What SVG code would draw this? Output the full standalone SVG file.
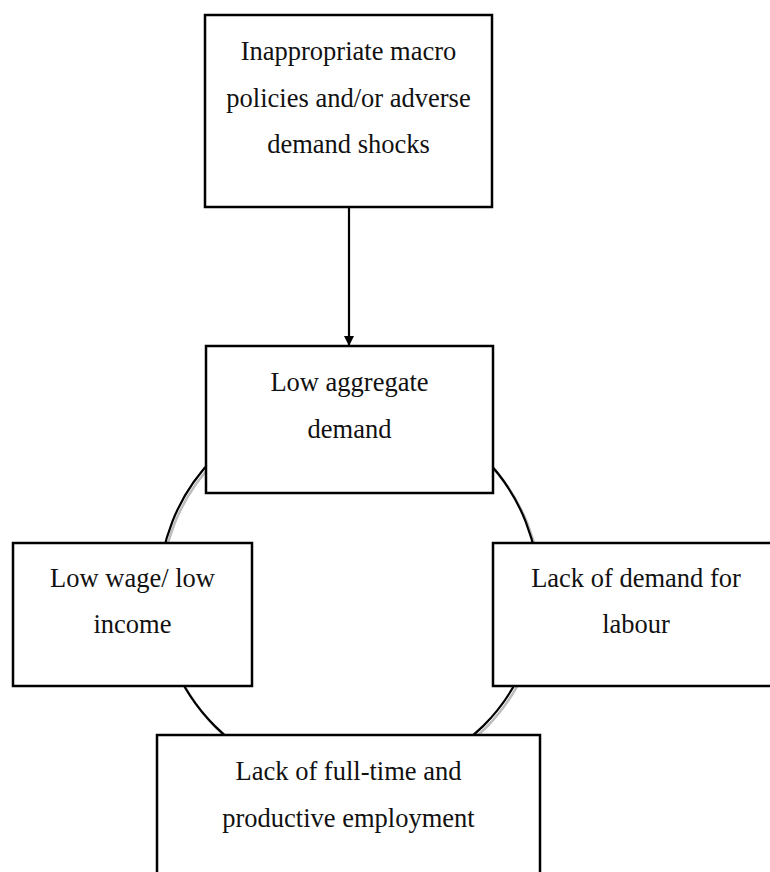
<svg xmlns="http://www.w3.org/2000/svg" width="770" height="872" viewBox="0 0 770 872">
  <style>
    .box { fill: #ffffff; stroke: #000000; stroke-width: 2.5; }
    .lbl { font-family: "Liberation Serif", "Times New Roman", serif; font-size: 26.5px; fill: #111111; text-anchor: middle; }
    .conn { fill: none; stroke: #000000; stroke-width: 2.2; }
  </style>
  <defs>
    <marker id="arrow" markerWidth="10" markerHeight="10" refX="9" refY="5" orient="auto" markerUnits="userSpaceOnUse">
      <path d="M0,0 L10,5 L0,10 Z" fill="#000000"/>
    </marker>
  </defs>
  <rect width="770" height="872" fill="#ffffff"/>
  <g id="connectors">
    <circle cx="351" cy="594" r="190" fill="none" stroke="#bdbdbd" stroke-width="2.5"/>
    <circle cx="349" cy="591.5" r="190" class="conn"/>
    <line x1="349" y1="207" x2="349" y2="345" class="conn" marker-end="url(#arrow)"/>
  </g>
  <g id="node-macro">
    <rect x="205" y="15" width="287" height="192" class="box"/>
    <text class="lbl" x="348.5" y="60">Inappropriate macro</text>
    <text class="lbl" x="348.5" y="107">policies and/or adverse</text>
    <text class="lbl" x="348.5" y="153">demand shocks</text>
  </g>
  <g id="node-aggregate">
    <rect x="206" y="346" width="287" height="147" class="box"/>
    <text class="lbl" x="349.5" y="391">Low aggregate</text>
    <text class="lbl" x="349.5" y="438">demand</text>
  </g>
  <g id="node-wage">
    <rect x="13" y="543" width="239" height="143" class="box"/>
    <text class="lbl" x="132.5" y="587">Low wage/ low</text>
    <text class="lbl" x="132.5" y="633">income</text>
  </g>
  <g id="node-labour">
    <rect x="493" y="543" width="290" height="143" class="box"/>
    <text class="lbl" x="636" y="587">Lack of demand for</text>
    <text class="lbl" x="636" y="633">labour</text>
  </g>
  <g id="node-employment">
    <rect x="157" y="735" width="383" height="150" class="box"/>
    <text class="lbl" x="348.5" y="780">Lack of full-time and</text>
    <text class="lbl" x="348.5" y="827">productive employment</text>
  </g>
</svg>
